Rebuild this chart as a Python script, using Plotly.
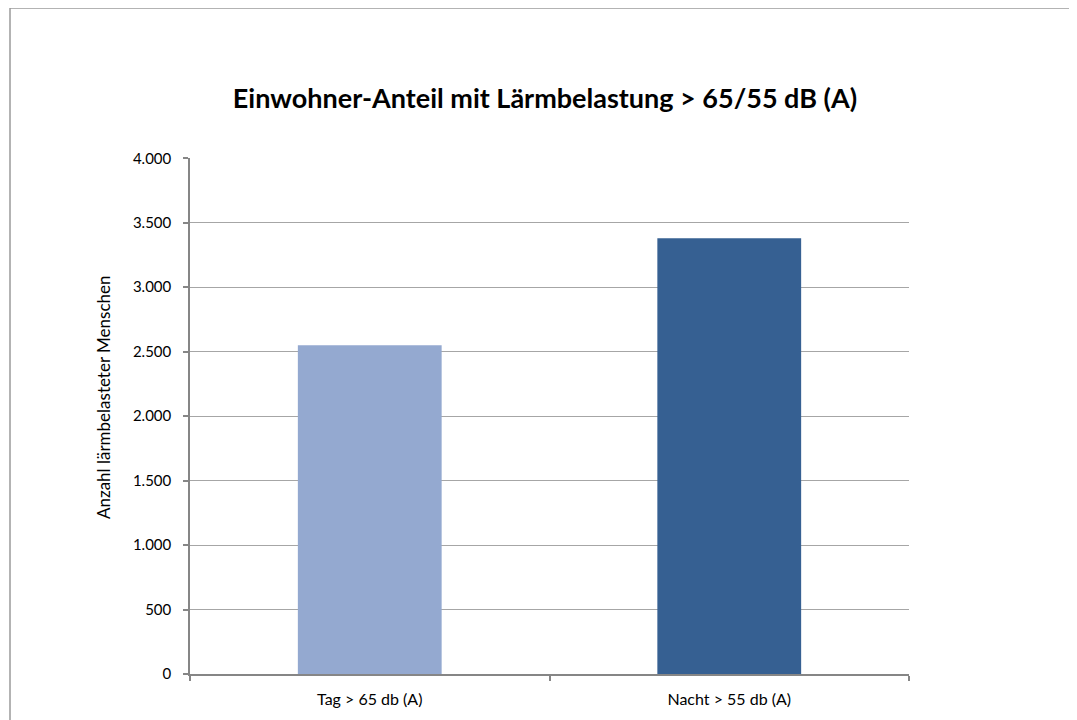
import plotly.graph_objects as go

categories = ["Tag > 65 db (A)", "Nacht > 55 db (A)"]
values = [2550, 3380]
bar_colors = ["#94A9D0", "#366092"]
y_ticks = [0, 500, 1000, 1500, 2000, 2500, 3000, 3500, 4000]

OFF = 8  # page body margin
W, H = 1077 - OFF, 720 - OFF
L, R, T, B = 190 - OFF, 909 - OFF, 158 - OFF, 674 - OFF
pw, ph = R - L, B - T

fig = go.Figure()
fig.add_trace(go.Bar(x=categories, y=values, marker=dict(color=bar_colors, line=dict(width=0)),
                     hoverinfo="x+y"))

font_family = "Lato, 'Open Sans', sans-serif"

fig.update_layout(
    width=W, height=H,
    margin=dict(l=L, r=W - R, t=T, b=H - B, pad=0),
    paper_bgcolor="white", plot_bgcolor="white",
    separators=",.",
    bargap=0.6,
    showlegend=False,
    font=dict(family=font_family, color="#000000", size=13),
    title=dict(text="<b>Einwohner-Anteil mit Lärmbelastung > 65/55 dB (A)</b>",
               x=(545 - OFF) / W, xanchor="center", y=1 - (99 - OFF) / H, yanchor="middle",
               font=dict(size=27, family=font_family, color="#000000")),
    xaxis=dict(
        showline=True, linecolor="#868686", linewidth=1.5,
        ticks="outside", ticklen=5, tickcolor="#868686", tickwidth=1.5,
        tickson="boundaries", showgrid=False,
        tickfont=dict(size=16, family=font_family, color="#000000"),
        ticklabelstandoff=10,
    ),
    yaxis=dict(
        range=[0, 4002], tickvals=y_ticks, tickformat=",d",
        showline=True, linecolor="#868686", linewidth=1.5,
        ticks="outside", ticklen=5, tickcolor="#868686", tickwidth=1.5,
        showgrid=True, gridcolor="#A6A6A6", gridwidth=1.2,
        zeroline=False,
        tickfont=dict(size=15, family=font_family, color="#000000"),
        ticklabelstandoff=9,
    ),
)

# y axis title (placed like the reference, slightly above the plot centre)
fig.add_annotation(text="Anzahl lärmbelasteter Menschen", textangle=-90,
                   xref="paper", yref="paper",
                   x=(103 - OFF - L) / pw, y=(B - (397 - OFF)) / ph,
                   xanchor="center", yanchor="middle", showarrow=False,
                   font=dict(size=17, family=font_family, color="#000000"))

# chart border
fig.add_shape(type="rect", xref="paper", yref="paper",
              x0=(10 - OFF - L) / pw, x1=(1076 - OFF - L) / pw,
              y0=(B - (730 - OFF)) / ph, y1=(B - (8 - OFF)) / ph,
              line=dict(color="#9A9A9A", width=1.5), fillcolor="rgba(0,0,0,0)", layer="below")

fig.write_html("out.html")
